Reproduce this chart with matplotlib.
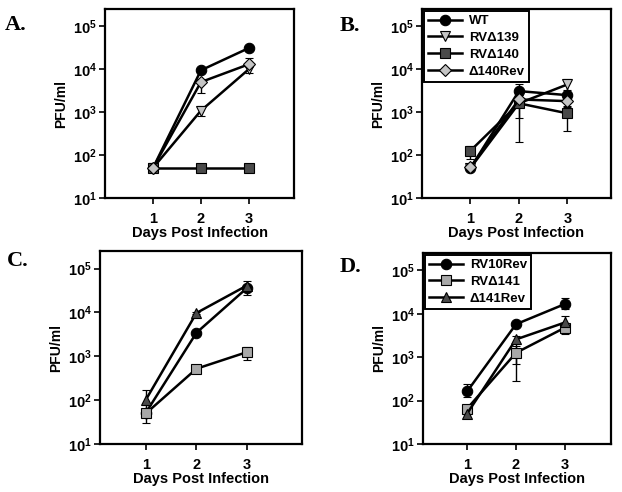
import numpy as np
import matplotlib
matplotlib.use('Agg')
import matplotlib.pyplot as plt
from matplotlib.ticker import FixedLocator, FixedFormatter, NullLocator

plt.rcParams['font.family'] = ['Liberation Sans', 'DejaVu Sans']
plt.rcParams['font.weight'] = 'bold'
plt.rcParams['mathtext.fontset'] = 'custom'
plt.rcParams['mathtext.bf'] = 'Liberation Sans:bold'
plt.rcParams['mathtext.rm'] = 'Liberation Sans:bold'

days = [1, 2, 3]

# panel A / B series (value, lower bound, upper bound)
a_wt = [50, 9400, 31000]
a_wt_lo = [50, 8600, 27000]
a_wt_hi = [50, 10500, 35000]
a_d139 = [50, 1080, 10000]
a_d139_lo = [50, 830, 8200]
a_d139_hi = [50, 1400, 12000]
a_d140 = [50, 50, 50]
a_d140_lo = [50, 50, 50]
a_d140_hi = [50, 50, 50]
a_rev140 = [50, 5000, 13000]
a_rev140_lo = [50, 2800, 11000]
a_rev140_hi = [50, 6000, 18000]

b_wt = [50, 3080, 2480]
b_wt_lo = [50, 2500, 2000]
b_wt_hi = [50, 4500, 3000]
b_d139 = [50, 1600, 4400]
b_d139_lo = [50, 1300, 3300]
b_d139_hi = [50, 2000, 6000]
b_d140 = [126, 1600, 935]
b_d140_lo = [81, 204, 360]
b_d140_hi = [165, 2200, 1300]
b_rev140 = [52, 1970, 1800]
b_rev140_lo = [52, 720, 1400]
b_rev140_hi = [52, 2500, 2300]

# panel C / D series
c_rev10 = [52, 3440, 36000]
c_rev10_lo = [52, 3200, 24500]
c_rev10_hi = [52, 3700, 42000]
c_d141 = [50, 520, 1245]
c_d141_lo = [30, 480, 830]
c_d141_hi = [76, 560, 1600]
c_rev141 = [103, 9700, 41000]
c_rev141_lo = [80, 9200, 36000]
c_rev141_hi = [170, 10200, 52000]

d_rev10 = [162, 5750, 16800]
d_rev10_lo = [120, 5300, 12900]
d_rev10_hi = [245, 6200, 23000]
d_d141 = [65, 1260, 4800]
d_d141_lo = [50, 290, 3400]
d_d141_hi = [80, 1800, 5600]
d_rev141 = [50, 2570, 6300]
d_rev141_lo = [50, 690, 5000]
d_rev141_hi = [50, 3000, 8900]

labels_b = ['WT', 'RV\u0394139', 'RV\u0394140', '\u0394140Rev']
labels_d = ['RV10Rev', 'RV\u0394141', '\u0394141Rev']

LIGHT = '#c4c4c4'
DARK = '#4a4a4a'

sty_wt = dict(marker='o', mfc='black', ms=7.5)
sty_139 = dict(marker='v', mfc=LIGHT, ms=7.5)
sty_140 = dict(marker='s', mfc=DARK, ms=6.5)
sty_rev140 = dict(marker='D', mfc=LIGHT, ms=6.5)
sty_d141 = dict(marker='s', mfc='#a8a8a8', ms=6.5)
sty_rev141 = dict(marker='^', mfc=DARK, ms=7.5)

fig = plt.figure(figsize=(6.22, 4.92), dpi=100)
W, H = 622, 492


def make_axes(left, right, top, bottom, xlim):
    ax = fig.add_axes([left / W, 1 - bottom / H, (right - left) / W, (bottom - top) / H])
    ax.set_yscale('log')
    ax.set_xlim(*xlim)
    ax.set_ylim(10, 10 ** 5.4)
    ax.yaxis.set_major_locator(FixedLocator([1e1, 1e2, 1e3, 1e4, 1e5]))
    ax.yaxis.set_major_formatter(FixedFormatter(
        [r'$\mathbf{10^{%d}}$' % k for k in range(1, 6)]))
    ax.yaxis.set_minor_locator(NullLocator())
    ax.set_xticks(days)
    ax.set_xticklabels(['1', '2', '3'])
    ax.tick_params(direction='out', length=4, width=1.2, labelsize=10.5, pad=2)
    ax.tick_params(axis='x', pad=6)
    for s in ax.spines.values():
        s.set_linewidth(1.6)
    ax.set_xlabel('Days Post Infection', fontsize=10.5, fontweight='bold', labelpad=0)
    ax.set_ylabel('PFU/ml', fontsize=10, fontweight='bold', labelpad=3)
    return ax


def series(ax, y, lo, hi, sty, label):
    y = np.array(y, float)
    err = [y - np.array(lo, float), np.array(hi, float) - y]
    ax.errorbar(days, y, yerr=err, color='black', ecolor='black', elinewidth=1,
                capsize=3, capthick=1, lw=1.8, mec='black', mew=0.8,
                label=label, **sty)


axA = make_axes(105, 294, 9, 198, (0, 3.94))
series(axA, a_wt, a_wt_lo, a_wt_hi, sty_wt, labels_b[0])
series(axA, a_d139, a_d139_lo, a_d139_hi, sty_139, labels_b[1])
series(axA, a_d140, a_d140_lo, a_d140_hi, sty_140, labels_b[2])
series(axA, a_rev140, a_rev140_lo, a_rev140_hi, sty_rev140, labels_b[3])

axB = make_axes(422, 611, 9, 198, (0, 3.9))
series(axB, b_wt, b_wt_lo, b_wt_hi, sty_wt, labels_b[0])
series(axB, b_d139, b_d139_lo, b_d139_hi, sty_139, labels_b[1])
series(axB, b_d140, b_d140_lo, b_d140_hi, sty_140, labels_b[2])
series(axB, b_rev140, b_rev140_lo, b_rev140_hi, sty_rev140, labels_b[3])

axC = make_axes(100, 302, 251, 444, (0.09, 4.09))
series(axC, c_rev10, c_rev10_lo, c_rev10_hi, sty_wt, labels_d[0])
series(axC, c_d141, c_d141_lo, c_d141_hi, sty_d141, labels_d[1])
series(axC, c_rev141, c_rev141_lo, c_rev141_hi, sty_rev141, labels_d[2])

axD = make_axes(423, 611, 253, 444, (0.1, 3.94))
series(axD, d_rev10, d_rev10_lo, d_rev10_hi, sty_wt, labels_d[0])
series(axD, d_d141, d_d141_lo, d_d141_hi, sty_d141, labels_d[1])
series(axD, d_rev141, d_rev141_lo, d_rev141_hi, sty_rev141, labels_d[2])

for ax in (axB, axD):
    h, l = ax.get_legend_handles_labels()
    h = [x[0] for x in h]
    leg = ax.legend(h, l, loc='upper left', frameon=True, fancybox=False,
                    framealpha=1, edgecolor='black', borderaxespad=0.15,
                    handlelength=2.6, handletextpad=0.5, borderpad=0.3,
                    labelspacing=0.35, prop={'weight': 'bold', 'size': 9.5})
    leg.get_frame().set_linewidth(1.4)

for txt, x, y in [('A.', 5, 30), ('B.', 340, 31), ('C.', 7, 266), ('D.', 340, 272)]:
    fig.text(x / W, 1 - y / H, txt, fontsize=16, fontweight='bold',
             family='Liberation Serif', va='baseline')

fig.savefig('out.png', dpi=100)
